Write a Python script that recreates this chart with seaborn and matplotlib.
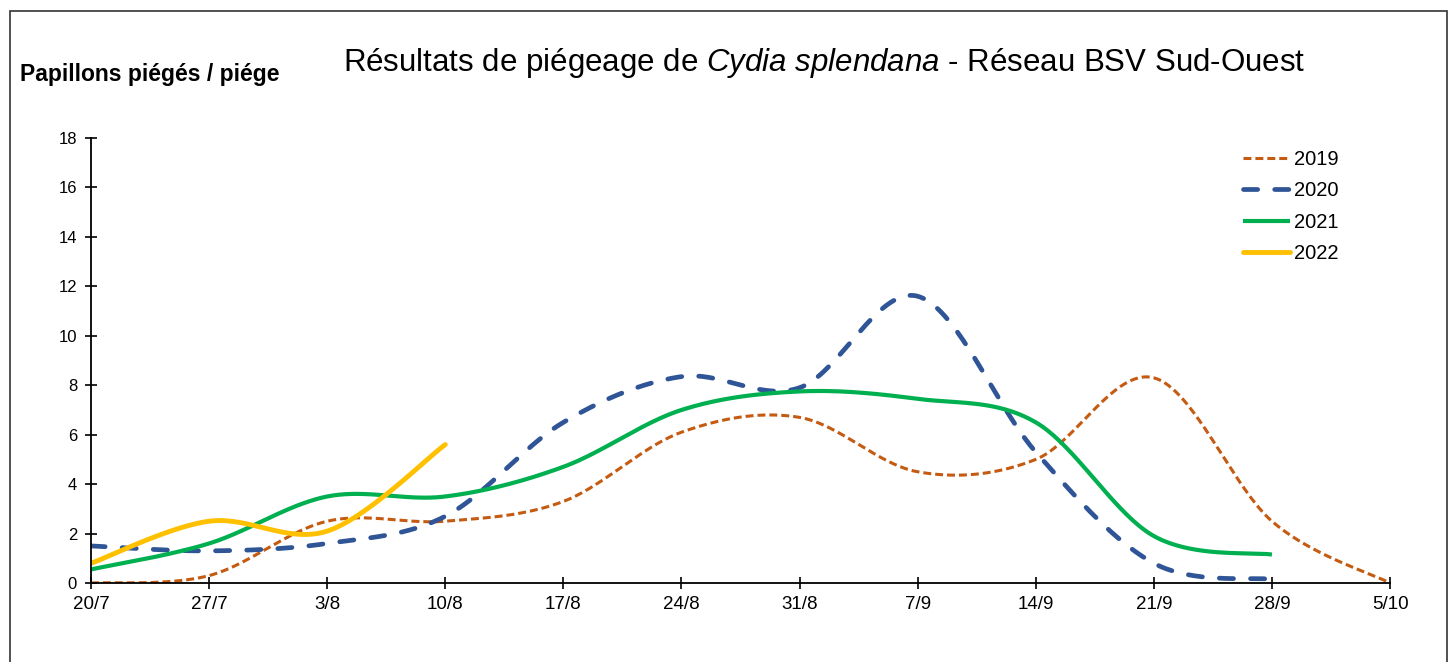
import numpy as np
import pandas as pd
import matplotlib
matplotlib.use("Agg")
import matplotlib.pyplot as plt
import seaborn as sns
from matplotlib.patches import Rectangle

# weekly dates on the x axis
dates = ['20/7', '27/7', '3/8', '10/8', '17/8', '24/8', '31/8', '7/9', '14/9', '21/9', '28/9', '5/10']

# moths caught per trap
y2019 = [0, 0.3, 2.5, 2.5, 3.3, 6.1, 6.7, 4.5, 5.0, 8.3, 2.5, 0]
y2020 = [1.5, 1.3, 1.6, 2.7, 6.5, 8.35, 7.9, 11.6, 5.3, 0.8, 0.15]
y2021 = [0.55, 1.6, 3.5, 3.5, 4.7, 7.0, 7.75, 7.45, 6.5, 1.9, 1.15]
y2022 = [0.8, 2.5, 2.1, 5.6]

years = ['2019', '2020', '2021', '2022']
colors = ['#C55A11', '#2F5597', '#00B050', '#FFC000']


def smooth(vals, n=40):
    # Excel-style smoothed line (cubic Bezier through the points)
    p = np.column_stack([np.arange(len(vals)), vals]).astype(float)
    pts = []
    for i in range(len(p) - 1):
        p0 = p[i - 1] if i > 0 else p[i]
        p3 = p[i + 2] if i + 2 < len(p) else p[i + 1]
        c1 = p[i] + (p[i + 1] - p0) / 6
        c2 = p[i + 1] - (p3 - p[i]) / 6
        t = np.linspace(0, 1, n)[:, None]
        seg = ((1 - t) ** 3) * p[i] + 3 * ((1 - t) ** 2) * t * c1 + 3 * (1 - t) * t ** 2 * c2 + t ** 3 * p[i + 1]
        pts.append(seg if i == 0 else seg[1:])
    pts = np.vstack(pts)
    return pd.DataFrame({'x': pts[:, 0], 'y': pts[:, 1]})


sns.set_theme(style="white")
plt.rcParams['font.family'] = ['Liberation Sans', 'DejaVu Sans']
plt.rcParams['text.color'] = 'black'
plt.rcParams['mathtext.fontset'] = 'custom'
plt.rcParams['mathtext.rm'] = 'Liberation Sans'
plt.rcParams['mathtext.it'] = 'Liberation Sans:italic'

fig = plt.figure(figsize=(14.49, 6.62), dpi=100)
ax = fig.add_axes([0.0628, 0.1193, 0.8965, 0.6722])

styles = [
    dict(lw=2.2, dashes=(2.6, 1.3), cap='butt'),
    dict(lw=3.4, dashes=(3.0, 3.6), cap='round'),
    dict(lw=3.0, dashes=None, cap='butt'),
    dict(lw=3.5, dashes=None, cap='round'),
]

for vals, year, col, st in zip([y2019, y2020, y2021, y2022], years, colors, styles):
    d = smooth(vals)
    sns.lineplot(data=d, x='x', y='y', sort=False, color=col, lw=st['lw'], label=year, ax=ax)
    line = ax.lines[-1]
    if st['dashes'] is not None:
        line.set_dashes(st['dashes'])
    line.set_dash_capstyle(st['cap'])
    line.set_solid_capstyle(st['cap'])

ax.set_xlim(0, len(dates) - 1)
ax.set_ylim(0, 18)
ax.set_xticks(range(len(dates)))
ax.set_xticklabels(dates)
ax.set_yticks(range(0, 19, 2))
ax.set_xlabel('')
ax.set_ylabel('')
ax.tick_params(axis='both', direction='inout', length=8, width=1.2, color='black',
               labelcolor='black', bottom=True, left=True)
ax.tick_params(axis='x', pad=5, labelsize=13.5)
ax.tick_params(axis='y', pad=6, labelsize=12)
for s in ['top', 'right']:
    ax.spines[s].set_visible(False)
for s in ['left', 'bottom']:
    ax.spines[s].set_color('black')
    ax.spines[s].set_linewidth(1.3)

leg = ax.legend(loc='upper left', bbox_to_anchor=(1243 / 1449, 1 - 150 / 662),
                bbox_transform=fig.transFigure, frameon=False, fontsize=14.5,
                handlelength=2.35, handletextpad=0.2, labelspacing=0.61,
                borderpad=0, borderaxespad=0)

fig.text(0.569, 0.905, 'Résultats de piégeage de $\\it{Cydia\\ splendana}$ - Réseau BSV Sud-Ouest',
         ha='center', va='center', fontsize=22.5)
fig.text(0.0135, 0.888, 'Papillons piégés / piége', ha='left', va='center',
         fontsize=16.5, fontweight='bold')

fig.patches.append(Rectangle((0.0069, -0.05), 0.9917, 1.033, transform=fig.transFigure,
                             fill=False, edgecolor='#333333', lw=1.2))

fig.savefig('out.png', dpi=100)
